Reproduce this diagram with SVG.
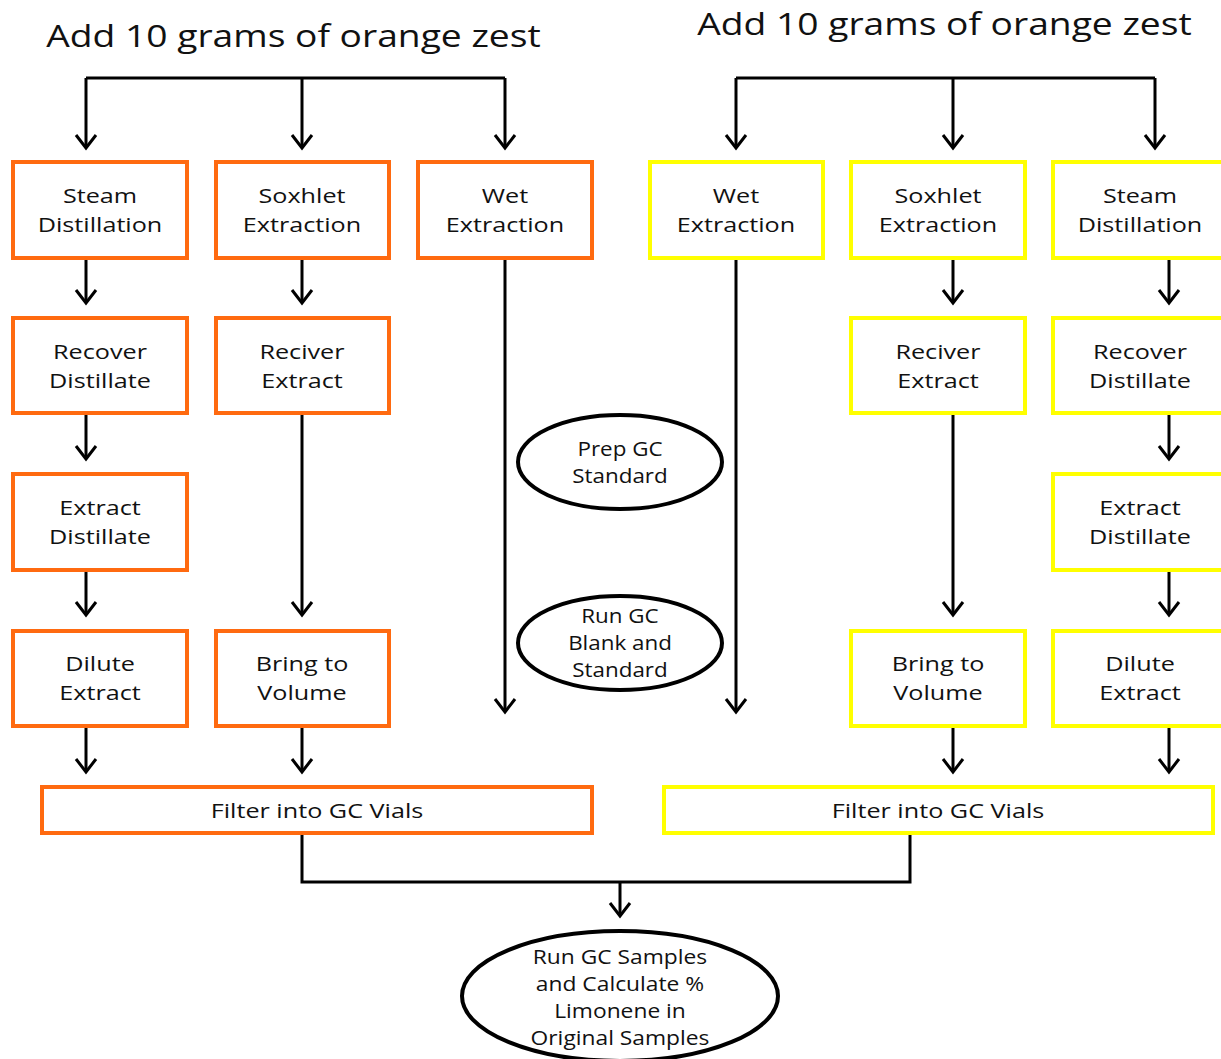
<svg xmlns="http://www.w3.org/2000/svg" width="1221" height="1059" viewBox="0 0 1221 1059">
<style>
.o{fill:#fff;stroke:#FF6A10;stroke-width:4}
.y{fill:#fff;stroke:#FFFF00;stroke-width:4}
.e{fill:#fff;stroke:#000;stroke-width:4}
.t{font-family:"Open Sans","Liberation Sans",sans-serif;font-size:20px;fill:#111;text-anchor:middle}
.h{font-family:"Open Sans","Liberation Sans",sans-serif;font-size:31px;fill:#111;text-anchor:middle}
.c{fill:none;stroke:#000;stroke-width:3}
.a{fill:none;stroke:#000;stroke-width:3;marker-end:url(#ar)}
</style>
<defs>
<marker id="ar" markerUnits="userSpaceOnUse" markerWidth="30" markerHeight="30" viewBox="-15 -15 30 30" refX="0" refY="0" orient="auto" overflow="visible">
<path d="M-13,-10 L0,0 L-13,10" fill="none" stroke="#000" stroke-width="3"/>
</marker>
</defs>
<rect width="1221" height="1059" fill="#fff"/>
<text class="h" transform="matrix(1.2 0 0 1 293.5 47)">Add 10 grams of orange zest</text>
<text class="h" transform="matrix(1.2 0 0 1 944.5 35)">Add 10 grams of orange zest</text>
<g id="connectors">
<path class="c" d="M86,78 H505"/>
<path class="a" d="M86,78 V148"/>
<path class="a" d="M302,78 V148"/>
<path class="a" d="M505,78 V148"/>
<path class="c" d="M736,78 H1155"/>
<path class="a" d="M736,78 V148"/>
<path class="a" d="M953,78 V148"/>
<path class="a" d="M1155,78 V148"/>
<path class="a" d="M86,258 V303"/>
<path class="a" d="M86,413 V459"/>
<path class="a" d="M86,570 V615"/>
<path class="a" d="M86,726 V772"/>
<path class="a" d="M302,258 V303"/>
<path class="a" d="M302,413 V615"/>
<path class="a" d="M302,726 V772"/>
<path class="a" d="M505,258 V712"/>
<path class="a" d="M736,258 V712"/>
<path class="a" d="M953,258 V303"/>
<path class="a" d="M953,413 V615"/>
<path class="a" d="M953,726 V772"/>
<path class="a" d="M1169,258 V303"/>
<path class="a" d="M1169,413 V459"/>
<path class="a" d="M1169,570 V615"/>
<path class="a" d="M1169,726 V772"/>
<path class="c" d="M302,833 V882 H910 V833"/>
<path class="a" d="M620,882 V916"/>
</g>
<g id="l-steam"><rect class="o" x="13" y="162" width="174" height="96"/><text class="t" transform="matrix(1.26 0 0 1 100 203)">Steam</text><text class="t" transform="matrix(1.26 0 0 1 100 232)">Distillation</text></g>
<g id="l-soxhlet"><rect class="o" x="216" y="162" width="173" height="96"/><text class="t" transform="matrix(1.26 0 0 1 302 203)">Soxhlet</text><text class="t" transform="matrix(1.26 0 0 1 302 232)">Extraction</text></g>
<g id="l-wet"><rect class="o" x="418" y="162" width="174" height="96"/><text class="t" transform="matrix(1.26 0 0 1 505 203)">Wet</text><text class="t" transform="matrix(1.26 0 0 1 505 232)">Extraction</text></g>
<g id="l-recover"><rect class="o" x="13" y="318" width="174" height="95"/><text class="t" transform="matrix(1.26 0 0 1 100 359)">Recover</text><text class="t" transform="matrix(1.26 0 0 1 100 388)">Distillate</text></g>
<g id="l-reciver"><rect class="o" x="216" y="318" width="173" height="95"/><text class="t" transform="matrix(1.26 0 0 1 302 359)">Reciver</text><text class="t" transform="matrix(1.26 0 0 1 302 388)">Extract</text></g>
<g id="l-extract"><rect class="o" x="13" y="474" width="174" height="96"/><text class="t" transform="matrix(1.26 0 0 1 100 515)">Extract</text><text class="t" transform="matrix(1.26 0 0 1 100 544)">Distillate</text></g>
<g id="l-dilute"><rect class="o" x="13" y="631" width="174" height="95"/><text class="t" transform="matrix(1.26 0 0 1 100 671)">Dilute</text><text class="t" transform="matrix(1.26 0 0 1 100 700)">Extract</text></g>
<g id="l-bring"><rect class="o" x="216" y="631" width="173" height="95"/><text class="t" transform="matrix(1.26 0 0 1 302 671)">Bring to</text><text class="t" transform="matrix(1.26 0 0 1 302 700)">Volume</text></g>
<g id="l-filter"><rect class="o" x="42" y="787" width="550" height="46"/><text class="t" transform="matrix(1.26 0 0 1 317 818)">Filter into GC Vials</text></g>
<g id="r-wet"><rect class="y" x="650" y="162" width="173" height="96"/><text class="t" transform="matrix(1.26 0 0 1 736 203)">Wet</text><text class="t" transform="matrix(1.26 0 0 1 736 232)">Extraction</text></g>
<g id="r-soxhlet"><rect class="y" x="851" y="162" width="174" height="96"/><text class="t" transform="matrix(1.26 0 0 1 938 203)">Soxhlet</text><text class="t" transform="matrix(1.26 0 0 1 938 232)">Extraction</text></g>
<g id="r-steam"><rect class="y" x="1053" y="162" width="174" height="96"/><text class="t" transform="matrix(1.26 0 0 1 1140 203)">Steam</text><text class="t" transform="matrix(1.26 0 0 1 1140 232)">Distillation</text></g>
<g id="r-reciver"><rect class="y" x="851" y="318" width="174" height="95"/><text class="t" transform="matrix(1.26 0 0 1 938 359)">Reciver</text><text class="t" transform="matrix(1.26 0 0 1 938 388)">Extract</text></g>
<g id="r-recover"><rect class="y" x="1053" y="318" width="174" height="95"/><text class="t" transform="matrix(1.26 0 0 1 1140 359)">Recover</text><text class="t" transform="matrix(1.26 0 0 1 1140 388)">Distillate</text></g>
<g id="r-extract"><rect class="y" x="1053" y="474" width="174" height="96"/><text class="t" transform="matrix(1.26 0 0 1 1140 515)">Extract</text><text class="t" transform="matrix(1.26 0 0 1 1140 544)">Distillate</text></g>
<g id="r-bring"><rect class="y" x="851" y="631" width="174" height="95"/><text class="t" transform="matrix(1.26 0 0 1 938 671)">Bring to</text><text class="t" transform="matrix(1.26 0 0 1 938 700)">Volume</text></g>
<g id="r-dilute"><rect class="y" x="1053" y="631" width="174" height="95"/><text class="t" transform="matrix(1.26 0 0 1 1140 671)">Dilute</text><text class="t" transform="matrix(1.26 0 0 1 1140 700)">Extract</text></g>
<g id="r-filter"><rect class="y" x="664" y="787" width="549" height="46"/><text class="t" transform="matrix(1.26 0 0 1 938 818)">Filter into GC Vials</text></g>
<g id="prep"><ellipse class="e" cx="620" cy="462" rx="102" ry="47"/><text class="t" transform="matrix(1.12 0 0 1 620 456)">Prep GC</text><text class="t" transform="matrix(1.12 0 0 1 620 483)">Standard</text></g>
<g id="rungc"><ellipse class="e" cx="620" cy="643" rx="102" ry="47"/><text class="t" transform="matrix(1.12 0 0 1 620 623)">Run GC</text><text class="t" transform="matrix(1.12 0 0 1 620 650)">Blank and</text><text class="t" transform="matrix(1.12 0 0 1 620 677)">Standard</text></g>
<g id="final"><ellipse class="e" cx="620" cy="996" rx="158" ry="65"/><text class="t" transform="matrix(1.14 0 0 1 620 964)">Run GC Samples</text><text class="t" transform="matrix(1.14 0 0 1 620 991)">and Calculate %</text><text class="t" transform="matrix(1.14 0 0 1 620 1018)">Limonene in</text><text class="t" transform="matrix(1.14 0 0 1 620 1045)">Original Samples</text></g>
</svg>
